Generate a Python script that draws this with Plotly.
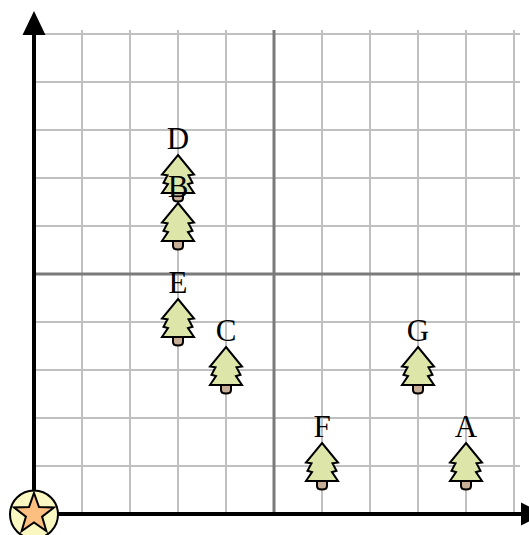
import math
import plotly.graph_objects as go

names = ["A", "B", "C", "D", "E", "F", "G"]
xs = [9, 3, 4, 3, 3, 6, 8]
ys = [1, 6, 3, 7, 4, 1, 3]

GRID = "#c0c0c0"
MID = "#7a7a7a"
INK = "#000000"
LEAF = "#dde6a8"
TRUNK = "#c9ae96"

X_MAX = 486 / 48
Y_MAX = 484 / 48

TREE = ("M0,23 L16,3.5 L10.5,2.8 L14.5,-4.8 L10,-6 L16,-15 L-16,-15 "
        "L-10,-6 L-14.5,-4.8 L-10.5,2.8 L-16,3.5 Z")
TRUNK_PATH = "M-5,-15 L-5,-20 Q-5,-23.5 0,-23.5 Q5,-23.5 5,-20 L5,-15 Z"


def star(r=21, inner=8.5):
    pts = []
    for i in range(10):
        rad = r if i % 2 == 0 else inner
        a = math.pi / 2 - i * math.pi / 5
        pts.append(f"{rad*math.cos(a):.2f},{rad*math.sin(a):.2f}")
    return "M" + " L".join(pts) + " Z"


def pixel_shape(path, x, y, fill, width=2, layer="between", xref="x", yref="y"):
    return dict(type="path", path=path, xsizemode="pixel", ysizemode="pixel",
                xanchor=x, yanchor=y, xref=xref, yref=yref, fillcolor=fill,
                line=dict(color=INK, width=width), layer=layer)


shapes = [
    dict(type="line", x0=5, x1=5, y0=0, y1=Y_MAX, xref="x", yref="y",
         line=dict(color=MID, width=3), layer="between"),
    dict(type="line", x0=0, x1=X_MAX, y0=5, y1=5, xref="x", yref="y",
         line=dict(color=MID, width=3), layer="between"),
]
for x, y in zip(xs, ys):
    shapes.append(pixel_shape(TRUNK_PATH, x, y, TRUNK))
    shapes.append(pixel_shape(TREE, x, y, LEAF))

shapes += [
    dict(type="line", x0=0, x1=0, y0=0, y1=1.008, xref="paper", yref="paper",
         line=dict(color=INK, width=4), layer="above"),
    dict(type="line", x0=0, x1=1.02, y0=0, y1=0, xref="paper", yref="paper",
         line=dict(color=INK, width=4), layer="above"),
    pixel_shape("M-11.5,479 L11.5,479 L0,503 Z", 0, 0, INK, 0, "above", "paper", "paper"),
    pixel_shape("M487,11.5 L487,-11.5 L510,0 Z", 0, 0, INK, 0, "above", "paper", "paper"),
    dict(type="circle", xsizemode="pixel", ysizemode="pixel", xanchor=0, yanchor=0,
         xref="paper", yref="paper", x0=-24, x1=24, y0=-24.5, y1=23.5,
         fillcolor="#fbf7c0", line=dict(color=INK, width=2), layer="above"),
    pixel_shape(star(), 0, 0, "#fdbf80", 2, "above", "paper", "paper"),
]

fig = go.Figure(go.Scatter(
    x=xs, y=ys, text=names, mode="markers+text", textposition="top center",
    marker=dict(size=32, opacity=0),
    textfont=dict(family="Liberation Serif", size=31, color=INK),
    cliponaxis=False, hoverinfo="text",
))

axis = dict(dtick=1, tick0=0, showgrid=True, gridcolor=GRID, gridwidth=2,
            showticklabels=False, ticks="", zeroline=False, showline=False, fixedrange=True)
fig.update_layout(
    width=529, height=535, margin=dict(l=34, r=9, t=30, b=21),
    plot_bgcolor="white", paper_bgcolor="white", showlegend=False,
    xaxis=dict(range=[0, X_MAX], **axis),
    yaxis=dict(range=[0, Y_MAX], **axis),
    shapes=shapes,
)
fig.write_html("out.html", config=dict(displayModeBar=False),
               post_script="document.body.style.margin='0';document.body.style.overflow='hidden';")
